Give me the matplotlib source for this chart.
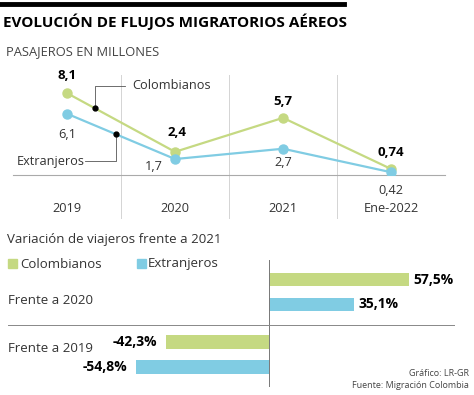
import matplotlib.pyplot as plt
from matplotlib.patches import Rectangle
from matplotlib.lines import Line2D
import matplotlib.transforms as mtransforms

plt.rcParams['font.family'] = ['Open Sans', 'DejaVu Sans']

# data
years = ["2019", "2020", "2021", "Ene-2022"]
colombianos = [8.1, 2.4, 5.7, 0.74]
extranjeros = [6.1, 1.7, 2.7, 0.42]
col_labels = ["8,1", "2,4", "5,7", "0,74"]
ext_labels = ["6,1", "1,7", "2,7", "0,42"]

groups = ["Frente a 2020", "Frente a 2019"]
var_col = [57.5, -42.3]
var_ext = [35.1, -54.8]

GREEN = "#c5d982"
BLUE = "#80cce3"
W, H = 474, 395

fig = plt.figure(figsize=(W / 100, H / 100), dpi=100)


def fx(x):
    return x / W


def fy(y):
    return 1 - y / H


def box(left, top, right, bottom):
    return [fx(left), fy(bottom), (right - left) / W, (bottom - top) / H]


def shifted(a, dy):
    # data transform moved by dy points
    return a.transData + mtransforms.ScaledTranslation(0, dy / 72, fig.dpi_scale_trans)


# header
fig.add_artist(Line2D([fx(0), fx(344)], [fy(4), fy(4)], color="black", lw=3.5))
fig.text(fx(3), fy(22), "EVOLUCIÓN DE FLUJOS MIGRATORIOS AÉREOS", fontsize=11,
         fontweight="bold", va="center", ha="left")
fig.text(fx(6), fy(52), "PASAJEROS EN MILLONES", fontsize=9.3, color="#444444",
         va="center", ha="left")

# line chart
ax = fig.add_axes(box(13, 75, 445, 175))
x = list(range(len(years)))
ax.plot(x, colombianos, color=GREEN, lw=1.6, marker="o", ms=6.5, zorder=3)
ax.plot(x, extranjeros, color=BLUE, lw=1.6, marker="o", ms=6.5, zorder=3)
ax.set_xlim(-0.5, 3.5)
ax.set_ylim(0.15, 9.86)
for s in ["top", "right", "left"]:
    ax.spines[s].set_visible(False)
ax.spines["bottom"].set_color("#aaaaaa")
ax.spines["bottom"].set_linewidth(0.8)
ax.set_xticks([])
ax.set_yticks([])
for gx in [0.5, 1.5, 2.5]:
    ax.axvline(gx, ymin=-0.43, ymax=1, color="#d4d4d4", lw=0.7, clip_on=False, zorder=0)

trans = mtransforms.blended_transform_factory(ax.transData, ax.transAxes)
for i, yr in enumerate(years):
    ax.text(i, -0.34, yr, transform=trans, ha="center", va="center", fontsize=9.2, color="#333333")

# value labels
col_pos = [(0, 8), (1.02, 9), (2, 7), (3, 7)]
ext_pos = [(0, -10), (0.8, -0.5), (2, -5), (3, -8.5)]
for i in range(len(years)):
    px, dy = col_pos[i]
    ax.text(px, colombianos[i], col_labels[i], ha="center", va="bottom", fontsize=9.5,
            fontweight="bold", transform=shifted(ax, dy))
    px, dy = ext_pos[i]
    ax.text(px, extranjeros[i], ext_labels[i], ha="center", va="top", fontsize=9.2,
            color="#333333", transform=shifted(ax, dy))

# callouts
cx = 0.26
cy = colombianos[0] + (colombianos[1] - colombianos[0]) * cx
ax.plot([cx], [cy], "o", color="black", ms=3.5, zorder=4)
ax.plot([cx, cx, 0.54], [cy, 8.8, 8.8], color="#555555", lw=0.6, clip_on=False)
ax.text(0.6, 8.8, "Colombianos", va="center", ha="left", fontsize=9.2, color="#333333")
ex = 0.455
ey = extranjeros[0] + (extranjeros[1] - extranjeros[0]) * ex
ax.plot([ex], [ey], "o", color="black", ms=3.5, zorder=4)
ax.plot([ex, ex, 0.17], [ey, 1.5, 1.5], color="#555555", lw=0.6, clip_on=False)
ax.text(0.16, 1.5, "Extranjeros", va="center", ha="right", fontsize=9.2, color="#333333")

# bar section
fig.text(fx(7), fy(240), "Variación de viajeros frente a 2021", fontsize=9.5, color="#333333",
         va="center", ha="left")
fig.add_artist(Rectangle((fx(8), fy(268)), 9 / W, 9 / H, transform=fig.transFigure,
                         color=GREEN))
fig.text(fx(20), fy(264), "Colombianos", fontsize=9.5, color="#333333", va="center")
fig.add_artist(Rectangle((fx(137), fy(268)), 9 / W, 9 / H, transform=fig.transFigure,
                         color=BLUE))
fig.text(fx(148), fy(264), "Extranjeros", fontsize=9.5, color="#333333", va="center")

bx = fig.add_axes(box(8, 260, 455, 387))
pos = [0, 1]
off = 0.2
hgt = 0.215
bx.barh([p - off for p in pos], var_col, height=hgt, color=GREEN)
bx.barh([p + off for p in pos], var_ext, height=hgt, color=BLUE)
bx.set_xlim(-107.2, 76.4)
bx.set_ylim(1.52, -0.512)
bx.axis("off")
bx.axvline(0, color="#777777", lw=0.7)
bx.axhline(0.52, color="#888888", lw=0.7)


def pct(v):
    return f"{v:.1f}%".replace(".", ",")


for p, c, e in zip(pos, var_col, var_ext):
    for val, yy in [(c, p - off), (e, p + off)]:
        ha = "left" if val > 0 else "right"
        dx = 1.6 if val > 0 else -3.5
        bx.text(val + dx, yy, pct(val), ha=ha, va="center", fontsize=10, fontweight="bold")
for p, g, dy in zip(pos, groups, [0.13, -0.09]):
    bx.text(-107.2 + 0.1, p + dy, g, ha="left", va="center", fontsize=9.5, color="#333333")

fig.text(fx(469), fy(374), "Gráfico: LR-GR", fontsize=6.5, color="#444444", ha="right", va="center")
fig.text(fx(469), fy(385), "Fuente: Migración Colombia", fontsize=6.5, color="#444444",
         ha="right", va="center")

fig.savefig("out.png", dpi=100)
